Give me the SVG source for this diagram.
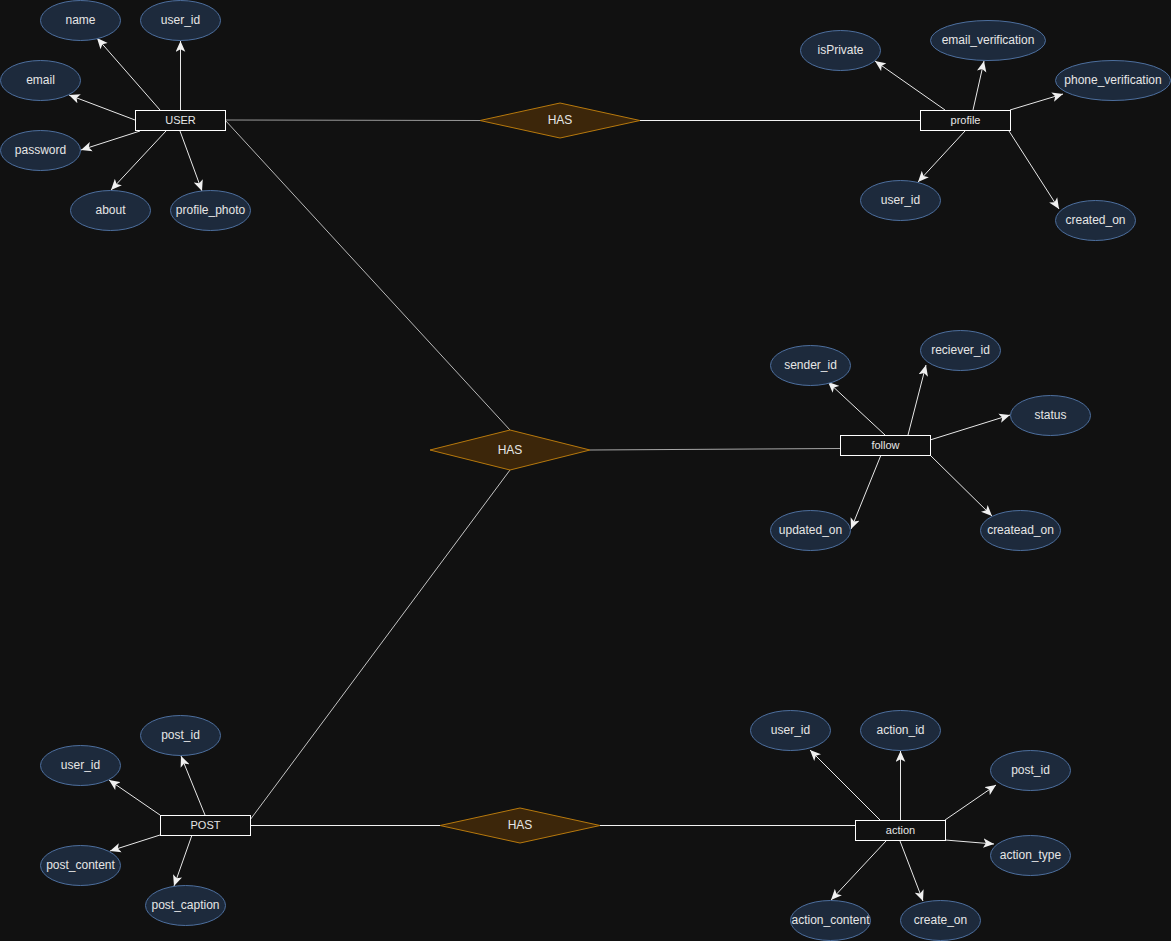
<svg xmlns="http://www.w3.org/2000/svg" width="1171" height="941" viewBox="0 0 1171 941">
  <style>
    .attr ellipse { fill: #1d2a3c; stroke: #4d6f9e; stroke-width: 1; }
    .ent rect { fill: #111111; stroke: #ffffff; stroke-width: 1; }
    .rel polygon { fill: #3c260a; stroke: #b7790d; stroke-width: 1; }
    text { font-family: "Liberation Sans", Arial, sans-serif; fill: #e6e6e6; text-anchor: middle; dominant-baseline: central; }
    .attr text, .rel text { font-size: 12px; }
    .ent text { font-size: 11px; }
    .link { fill: none; stroke-width: 1; }
    .a { stroke: #e8e8e8; marker-end: url(#arrow); }
  </style>
  <defs>
    <!-- classic arrowhead for attribute links -->
    <marker id="arrow" markerUnits="userSpaceOnUse" markerWidth="12" markerHeight="10" refX="9" refY="4" orient="auto" viewBox="0 0 10 8">
      <path d="M0,0 L9,4 L0,8 L2.2,4 z" fill="#f0f0f0"/>
    </marker>
  </defs>
  <rect width="1171" height="941" fill="#111111"/>

  <!-- connectors -->
  <g id="connectors">
    <!-- relationship links -->
    <line class="link" x1="225" y1="120" x2="480" y2="120.5" stroke="#9a9a9a"/>
    <line class="link" x1="640" y1="120.5" x2="920" y2="120.5" stroke="#f2f2f2"/>
    <line class="link" x1="225" y1="120" x2="510" y2="430" stroke="#b8b8b8"/>
    <line class="link" x1="590" y1="450" x2="840" y2="448.5" stroke="#a8a8a8"/>
    <line class="link" x1="510" y1="470" x2="250" y2="820" stroke="#c4c4c4"/>
    <line class="link" x1="250" y1="825.5" x2="440" y2="825.5" stroke="#f2f2f2"/>
    <line class="link" x1="600" y1="825.5" x2="855" y2="825.5" stroke="#f2f2f2"/>

    <!-- USER attributes -->
    <line class="link a" x1="160" y1="110" x2="97" y2="38"/>
    <line class="link a" x1="180.5" y1="110" x2="180.5" y2="41"/>
    <line class="link a" x1="135" y1="120" x2="69" y2="95"/>
    <line class="link a" x1="140" y1="131" x2="81" y2="150"/>
    <line class="link a" x1="166" y1="131" x2="111" y2="190"/>
    <line class="link a" x1="180" y1="131" x2="202" y2="191"/>

    <!-- profile attributes -->
    <line class="link a" x1="945" y1="110" x2="875" y2="61"/>
    <line class="link a" x1="973" y1="110" x2="984" y2="61"/>
    <line class="link a" x1="1010" y1="110" x2="1063" y2="94"/>
    <line class="link a" x1="965" y1="131" x2="918" y2="182"/>
    <line class="link a" x1="1009" y1="131" x2="1059" y2="209"/>

    <!-- follow attributes -->
    <line class="link a" x1="885" y1="435" x2="828" y2="382"/>
    <line class="link a" x1="908" y1="435" x2="926" y2="365"/>
    <line class="link a" x1="930" y1="440" x2="1010" y2="415"/>
    <line class="link a" x1="881" y1="455" x2="851" y2="529"/>
    <line class="link a" x1="930" y1="455" x2="992" y2="516"/>

    <!-- POST attributes -->
    <line class="link a" x1="205" y1="815" x2="181" y2="756"/>
    <line class="link a" x1="160" y1="815" x2="109" y2="780"/>
    <line class="link a" x1="160" y1="835" x2="110" y2="851"/>
    <line class="link a" x1="192" y1="835" x2="174" y2="886"/>

    <!-- action attributes -->
    <line class="link a" x1="880" y1="820" x2="810" y2="750"/>
    <line class="link a" x1="900.5" y1="820" x2="900.5" y2="751"/>
    <line class="link a" x1="945" y1="820" x2="996" y2="785"/>
    <line class="link a" x1="945" y1="840" x2="994" y2="844"/>
    <line class="link a" x1="886" y1="841" x2="831" y2="900"/>
    <line class="link a" x1="900" y1="841" x2="923" y2="901"/>
  </g>

  <!-- entities -->
  <g id="user" class="ent"><rect x="135.5" y="110.5" width="90" height="20"/><text x="180.5" y="120">USER</text></g>
  <g id="profile" class="ent"><rect x="920.5" y="110.5" width="90" height="20"/><text x="965.5" y="120">profile</text></g>
  <g id="follow" class="ent"><rect x="840.5" y="435.5" width="90" height="20"/><text x="885.5" y="445">follow</text></g>
  <g id="post" class="ent"><rect x="160.5" y="815.5" width="90" height="20"/><text x="205.5" y="825">POST</text></g>
  <g id="action" class="ent"><rect x="855.5" y="820.5" width="90" height="20"/><text x="900.5" y="830">action</text></g>

  <!-- relationships -->
  <g id="has-profile" class="rel"><polygon points="480,120.5 560,103 640,120.5 560,138"/><text x="560" y="120">HAS</text></g>
  <g id="has-follow" class="rel"><polygon points="430,450 510,430 590,450 510,470"/><text x="510" y="449.5">HAS</text></g>
  <g id="has-action" class="rel"><polygon points="440,825.5 520,808 600,825.5 520,843"/><text x="520" y="825">HAS</text></g>

  <!-- USER attributes -->
  <g id="user-name" class="attr"><ellipse cx="80.5" cy="20.5" rx="40" ry="20"/><text x="80.5" y="20">name</text></g>
  <g id="user-user_id" class="attr"><ellipse cx="180.5" cy="20.5" rx="40" ry="20"/><text x="180.5" y="20">user_id</text></g>
  <g id="user-email" class="attr"><ellipse cx="40.5" cy="80.5" rx="40" ry="20"/><text x="40.5" y="80">email</text></g>
  <g id="user-password" class="attr"><ellipse cx="40.5" cy="150.5" rx="40" ry="20"/><text x="40.5" y="150">password</text></g>
  <g id="user-about" class="attr"><ellipse cx="110.5" cy="210.5" rx="40" ry="20"/><text x="110.5" y="210">about</text></g>
  <g id="user-profile_photo" class="attr"><ellipse cx="210.5" cy="210.5" rx="40" ry="20"/><text x="210.5" y="210">profile_photo</text></g>

  <!-- profile attributes -->
  <g id="profile-isPrivate" class="attr"><ellipse cx="840.5" cy="50.5" rx="40" ry="20"/><text x="840.5" y="50">isPrivate</text></g>
  <g id="profile-email_verification" class="attr"><ellipse cx="988" cy="40.5" rx="57.5" ry="20"/><text x="988" y="40">email_verification</text></g>
  <g id="profile-phone_verification" class="attr"><ellipse cx="1113" cy="80.5" rx="57.5" ry="20"/><text x="1113" y="80">phone_verification</text></g>
  <g id="profile-user_id" class="attr"><ellipse cx="900.5" cy="200.5" rx="40" ry="20"/><text x="900.5" y="200">user_id</text></g>
  <g id="profile-created_on" class="attr"><ellipse cx="1095.5" cy="220.5" rx="40" ry="20"/><text x="1095.5" y="220">created_on</text></g>

  <!-- follow attributes -->
  <g id="follow-sender_id" class="attr"><ellipse cx="810.5" cy="365.5" rx="40" ry="20"/><text x="810.5" y="365">sender_id</text></g>
  <g id="follow-reciever_id" class="attr"><ellipse cx="960.5" cy="350.5" rx="40" ry="20"/><text x="960.5" y="350">reciever_id</text></g>
  <g id="follow-status" class="attr"><ellipse cx="1050.5" cy="415.5" rx="40" ry="20"/><text x="1050.5" y="415">status</text></g>
  <g id="follow-updated_on" class="attr"><ellipse cx="810.5" cy="530.5" rx="40" ry="20"/><text x="810.5" y="530">updated_on</text></g>
  <g id="follow-createad_on" class="attr"><ellipse cx="1020.5" cy="530.5" rx="40" ry="20"/><text x="1020.5" y="530">createad_on</text></g>

  <!-- POST attributes -->
  <g id="post-post_id" class="attr"><ellipse cx="180.5" cy="735.5" rx="40" ry="20"/><text x="180.5" y="735">post_id</text></g>
  <g id="post-user_id" class="attr"><ellipse cx="80.5" cy="765.5" rx="40" ry="20"/><text x="80.5" y="765">user_id</text></g>
  <g id="post-post_content" class="attr"><ellipse cx="80.5" cy="865.5" rx="40" ry="20"/><text x="80.5" y="865">post_content</text></g>
  <g id="post-post_caption" class="attr"><ellipse cx="185.5" cy="905.5" rx="40" ry="20"/><text x="185.5" y="905">post_caption</text></g>

  <!-- action attributes -->
  <g id="action-user_id" class="attr"><ellipse cx="790.5" cy="730.5" rx="40" ry="20"/><text x="790.5" y="730">user_id</text></g>
  <g id="action-action_id" class="attr"><ellipse cx="900.5" cy="730.5" rx="40" ry="20"/><text x="900.5" y="730">action_id</text></g>
  <g id="action-post_id" class="attr"><ellipse cx="1030.5" cy="770.5" rx="40" ry="20"/><text x="1030.5" y="770">post_id</text></g>
  <g id="action-action_type" class="attr"><ellipse cx="1030.5" cy="855.5" rx="40" ry="20"/><text x="1030.5" y="855">action_type</text></g>
  <g id="action-action_content" class="attr"><ellipse cx="830.5" cy="920.5" rx="40" ry="20"/><text x="830.5" y="920">action_content</text></g>
  <g id="action-create_on" class="attr"><ellipse cx="940.5" cy="920.5" rx="40" ry="20"/><text x="940.5" y="920">create_on</text></g>
</svg>
